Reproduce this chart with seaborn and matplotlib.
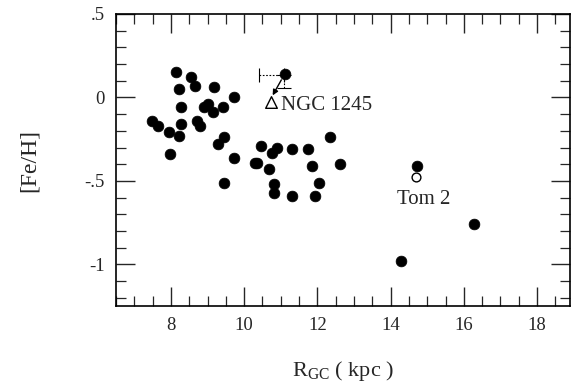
import numpy as np
import pandas as pd
import matplotlib
matplotlib.use("Agg")
import matplotlib.pyplot as plt
import seaborn as sns
from matplotlib.ticker import MultipleLocator, FixedLocator, FixedFormatter

# open clusters: galactocentric radius (kpc) and [Fe/H]
rgc = [7.48, 7.65, 7.95, 7.97, 8.13, 8.21, 8.27, 8.27, 8.21, 8.55, 8.67,
       8.71, 8.79, 8.89, 9.02, 9.16, 9.18, 9.43, 9.73, 9.29, 9.45, 9.71,
       9.45, 10.30, 10.36, 10.46, 10.69, 10.75, 10.91, 10.82, 10.82, 11.30,
       11.30, 11.74, 11.85, 12.05, 11.93, 12.35, 12.61, 11.12, 14.71, 14.27,
       16.29]
feh = [-0.14, -0.17, -0.21, -0.34, 0.15, 0.05, -0.06, -0.16, -0.23, 0.12,
       0.07, -0.14, -0.17, -0.06, -0.04, -0.09, 0.06, -0.06, 0.00, -0.28,
       -0.24, -0.36, -0.51, -0.39, -0.39, -0.29, -0.43, -0.33, -0.30, -0.52,
       -0.57, -0.31, -0.59, -0.31, -0.41, -0.51, -0.59, -0.24, -0.40, 0.14,
       -0.41, -0.98, -0.76]

# NGC 1245: old value (filled, with error bars) and new value (triangle)
ngc_old = (11.09, 0.134)
ngc_new = (10.74, -0.03)
ngc_xerr_left = 0.69
ngc_yerr_low = 0.078
# Tom 2 new value (open circle)
tom2 = (14.69, -0.476)

sns.set_style("ticks")
plt.rcParams['font.family'] = ['Liberation Serif', 'DejaVu Serif']
plt.rcParams['mathtext.fontset'] = 'custom'
plt.rcParams['mathtext.rm'] = 'Liberation Serif'

df = pd.DataFrame({"rgc": rgc, "feh": feh})

fig = plt.figure(figsize=(5.77, 3.87), dpi=100)
ax = fig.add_axes([0.201, 0.209, 0.787, 0.755])

sns.scatterplot(data=df, x="rgc", y="feh", ax=ax, color="black", s=60,
                edgecolor="black", linewidth=0.5, zorder=3)

# dotted error bars of the old NGC 1245 value
eb = ax.errorbar([ngc_old[0]], [ngc_old[1]], xerr=[[ngc_xerr_left], [0]],
                 yerr=[[ngc_yerr_low], [0]], fmt="none", ecolor="black",
                 elinewidth=0.8, capsize=5, capthick=0.8, zorder=2)
for lc in eb[2]:
    lc.set_linestyle((0, (1.5, 1.5)))

ax.scatter([ngc_new[0]], [ngc_new[1]], marker="^", s=70, facecolor="white",
           edgecolor="black", linewidth=1.0, zorder=3)
ax.scatter([tom2[0]], [tom2[1]], marker="o", s=40, facecolor="white",
           edgecolor="black", linewidth=1.0, zorder=3)

ax.annotate("", xy=(ngc_new[0] + 0.02, ngc_new[1] + 0.035), xytext=ngc_old,
            arrowprops=dict(arrowstyle="-|>", color="black", lw=1.0,
                            mutation_scale=8, shrinkA=4, shrinkB=1), zorder=4)
ax.text(11.0, -0.046, "NGC 1245", fontsize=15, va="center", ha="left")
ax.text(14.89, -0.61, "Tom 2", fontsize=15, va="center", ha="center")

ax.set_xlim(6.5, 18.9)
ax.set_ylim(-1.25, 0.5)
ax.xaxis.set_major_locator(MultipleLocator(2))
ax.xaxis.set_minor_locator(MultipleLocator(0.5))
ax.yaxis.set_major_locator(FixedLocator([0.5, 0, -0.5, -1]))
ax.yaxis.set_major_formatter(FixedFormatter([".5", "0", "-.5", "-1"]))
ax.yaxis.set_minor_locator(MultipleLocator(0.1))

ax.tick_params(which="major", direction="in", length=14, width=1.0,
               top=True, right=True, labelsize=13.5, pad=8)
ax.tick_params(which="minor", direction="in", length=7, width=0.9,
               top=True, right=True)
for sp in ax.spines.values():
    sp.set_linewidth(1.2)
    sp.set_color("black")

ax.set_xlabel(r"R$_{\rm GC}$ ( kpc )", fontsize=16, labelpad=18)
ax.set_ylabel("[Fe/H]", fontsize=17, labelpad=32)

fig.savefig("out.png", dpi=100)
